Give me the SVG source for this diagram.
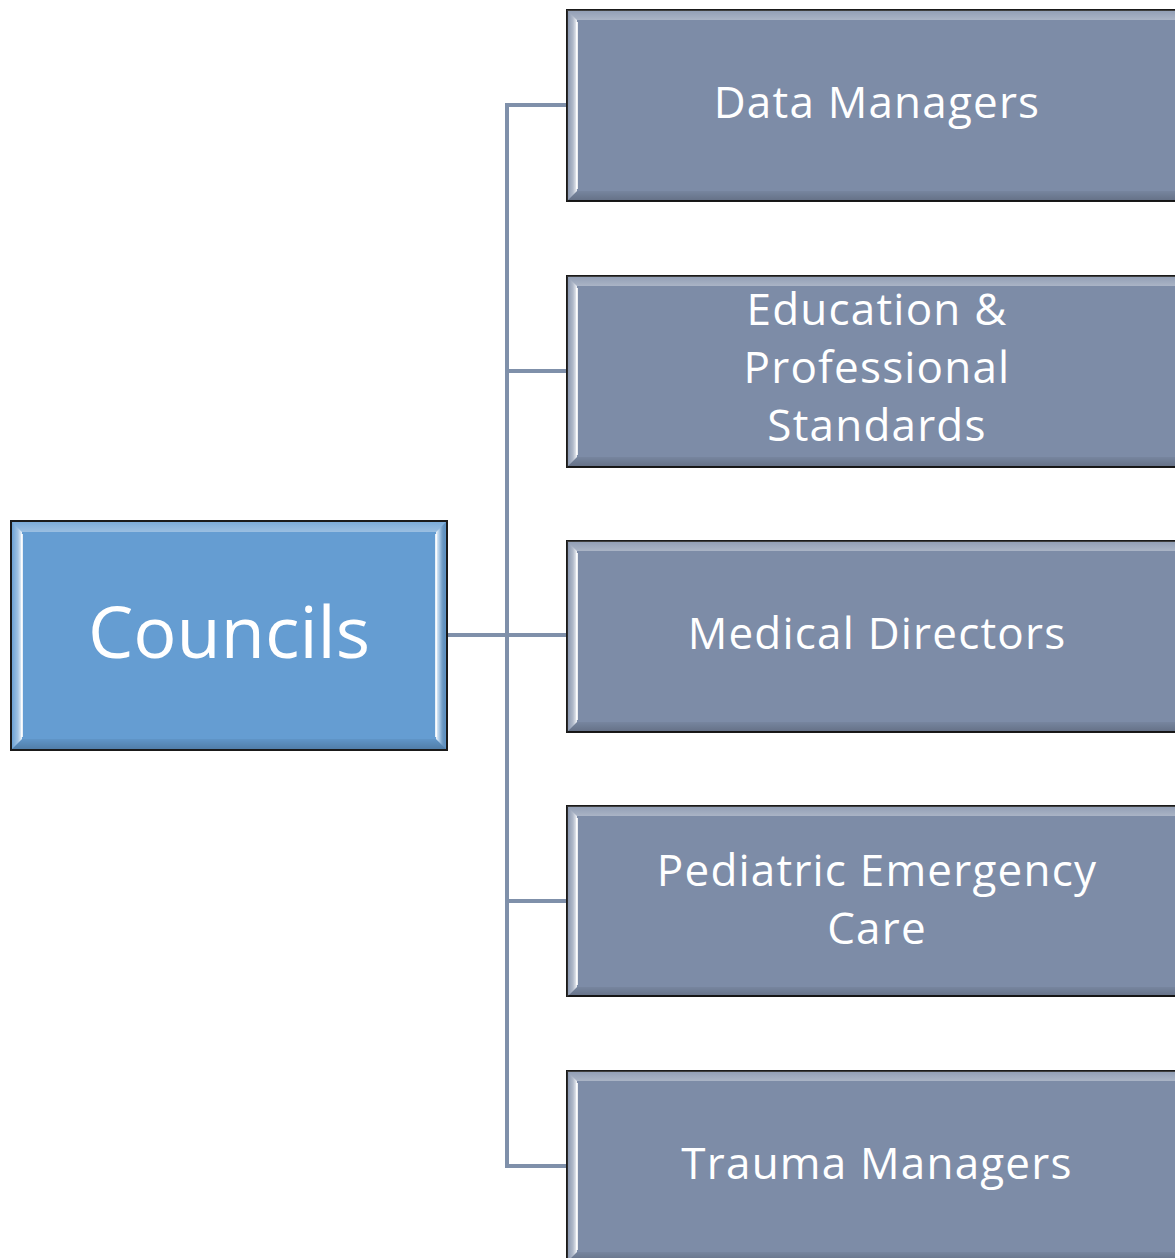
<svg xmlns="http://www.w3.org/2000/svg" width="1175" height="1258" viewBox="0 0 1175 1258">
<style>
.frame{stroke:#1a1a1a;stroke-width:2}
.blue{fill:#659dd2}
.gray{fill:#7d8ca7}
.lbl{font-family:"Open Sans","Noto Sans",sans-serif;fill:#ffffff;text-anchor:middle}
.sub{font-size:44px;letter-spacing:1.2px}
.main{font-size:72px}
.conn{stroke:#7f90aa;stroke-width:4;fill:none}
.hl{stroke:#ffffff;stroke-opacity:0.85;stroke-width:2;fill:none}
</style>
<defs>
<linearGradient id="lb" x1="0" x2="1" y1="0" y2="0">
<stop offset="0" stop-color="#ffffff" stop-opacity="0.05"/>
<stop offset="0.6" stop-color="#ffffff" stop-opacity="0.4"/>
<stop offset="1" stop-color="#ffffff" stop-opacity="0.9"/>
</linearGradient>
<linearGradient id="rb" x1="0" x2="1" y1="0" y2="0">
<stop offset="0" stop-color="#ffffff" stop-opacity="0.9"/>
<stop offset="0.4" stop-color="#ffffff" stop-opacity="0.35"/>
<stop offset="1" stop-color="#000000" stop-opacity="0.05"/>
</linearGradient>
<linearGradient id="tb" x1="0" x2="0" y1="0" y2="1">
<stop offset="0" stop-color="#ffffff" stop-opacity="0.15"/>
<stop offset="1" stop-color="#ffffff" stop-opacity="0.35"/>
</linearGradient>
<linearGradient id="bb" x1="0" x2="0" y1="0" y2="1">
<stop offset="0" stop-color="#000000" stop-opacity="0.05"/>
<stop offset="1" stop-color="#000000" stop-opacity="0.2"/>
</linearGradient>
<g id="bevelR">
<polygon points="0,0 620,0 610,10 10,10" fill="url(#tb)"/>
<polygon points="0,191 620,191 610,181 10,181" fill="url(#bb)"/>
<polygon points="0,0 10,10 10,181 0,191" fill="url(#lb)"/>
<polygon points="620,0 610,10 610,181 620,191" fill="url(#rb)"/>
<path class="hl" d="M10 12 V179"/>
<path class="hl" d="M610 12 V179"/>
</g>
</defs>

<g id="connectors">
<path class="conn" d="M447 635 H507"/>
<path class="conn" d="M567 105 H507 V1166 H567"/>
<path class="conn" d="M507 371 H567"/>
<path class="conn" d="M507 635 H567"/>
<path class="conn" d="M507 901 H567"/>
</g>

<g id="councils">
<rect class="blue frame" x="11" y="521" width="436" height="229"/>
<polygon points="12,522 446,522 436,532 22,532" fill="url(#tb)"/>
<polygon points="12,749 446,749 436,739 22,739" fill="url(#bb)"/>
<polygon points="12,522 22,532 22,739 12,749" fill="url(#lb)"/>
<polygon points="446,522 436,532 436,739 446,749" fill="url(#rb)"/>
<path class="hl" d="M22 534 V737"/>
<path class="hl" d="M436 534 V737"/>
<text class="lbl main" x="229" y="658">Councils</text>
</g>

<g id="data-managers">
<rect class="gray frame" x="567" y="10" width="620" height="191"/>
<use href="#bevelR" x="567" y="10"/>
<text class="lbl sub" x="877" y="118">Data Managers</text>
</g>

<g id="education">
<rect class="gray frame" x="567" y="276" width="620" height="191"/>
<use href="#bevelR" x="567" y="276"/>
<text class="lbl sub" x="877" y="325">Education &amp;</text>
<text class="lbl sub" x="877" y="383">Professional</text>
<text class="lbl sub" x="877" y="441">Standards</text>
</g>

<g id="medical-directors">
<rect class="gray frame" x="567" y="541" width="620" height="191"/>
<use href="#bevelR" x="567" y="541"/>
<text class="lbl sub" x="877" y="649">Medical Directors</text>
</g>

<g id="pediatric">
<rect class="gray frame" x="567" y="806" width="620" height="190"/>
<use href="#bevelR" x="567" y="806"/>
<text class="lbl sub" x="877" y="886">Pediatric Emergency</text>
<text class="lbl sub" x="877" y="944">Care</text>
</g>

<g id="trauma-managers">
<rect class="gray frame" x="567" y="1071" width="620" height="191"/>
<use href="#bevelR" x="567" y="1071"/>
<text class="lbl sub" x="877" y="1179">Trauma Managers</text>
</g>
</svg>
